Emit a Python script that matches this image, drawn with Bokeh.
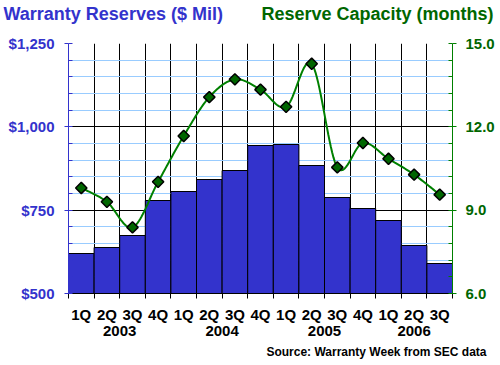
import numpy as np
from bokeh.plotting import figure
from bokeh.layouts import column
from bokeh.models import (Range1d, LinearAxis, FixedTicker, Label, ColumnDataSource, Plot)
from bokeh.embed import file_html
from bokeh.resources import INLINE

# ---- data ----
quarters = ["1Q", "2Q", "3Q", "4Q", "1Q", "2Q", "3Q", "4Q", "1Q", "2Q", "3Q", "4Q", "1Q", "2Q", "3Q"]
years = ["2003", "2004", "2005", "2006"]
year_quarter_counts = [4, 4, 4, 3]
reserves = [620, 638, 674, 779, 806, 842, 869, 944, 947, 884, 788, 755, 719, 644, 590]
capacity = [9.80, 9.30, 8.38, 10.02, 11.67, 13.07, 13.71, 13.34, 12.72, 14.27, 10.54, 11.42, 10.85, 10.28, 9.56]
left_ticks = [500, 750, 1000, 1250]
left_labels = ["$500", "$750", "$1,000", "$1,250"]
right_ticks = [6.0, 9.0, 12.0, 15.0]
title_left = "Warranty Reserves ($ Mil)"
title_right = "Reserve Capacity (months)"
source_note = "Source: Warranty Week from SEC data"

BLUE = "#3333CC"
GREEN_TXT = "#006600"
GREEN_LINE = "#008000"
FONT = "Liberation Sans"

TOTAL_W = 495
HEAD_H, FOOT_H = 30, 26
FW, FH = 384, 250
BL, BT, BR, BB = 68, 13, TOTAL_W - 68 - 384, 46

HAS_FRAME_ALIGN = "frame_align" in Plot.properties()

n = len(reserves)
centers = [i + 0.5 for i in range(n)]
bounds = list(range(n + 1))


def no_align(f):
    if HAS_FRAME_ALIGN:
        f.frame_align = False
    return f


def text_panel(h):
    f = figure(width=TOTAL_W, height=h, output_backend="svg", toolbar_location=None,
               x_range=Range1d(0, TOTAL_W), y_range=Range1d(0, h),
               x_axis_location=None, y_axis_location=None,
               min_border=0, outline_line_color=None,
               background_fill_color="white", border_fill_color="white")
    f.xgrid.visible = False
    f.ygrid.visible = False
    return no_align(f)


# ---- header with the two titles ----
head = text_panel(HEAD_H)
head.add_layout(Label(x=3, y=HEAD_H - 3, text=title_left, text_font=FONT, text_font_style="bold",
                      text_font_size="18px", text_color=BLUE, text_baseline="top", text_align="left"))
head.add_layout(Label(x=493, y=HEAD_H - 3, text=title_right, text_font=FONT, text_font_style="bold",
                      text_font_size="18px", text_color=GREEN_TXT, text_baseline="top", text_align="right"))

# ---- main chart ----
p = figure(frame_width=FW, frame_height=FH, output_backend="svg", toolbar_location=None,
           x_range=Range1d(0, n), y_range=Range1d(500, 1250),
           min_border_left=BL, min_border_right=BR, min_border_top=BT, min_border_bottom=BB,
           background_fill_color="white", border_fill_color="white", outline_line_color=None)
no_align(p)
p.extra_y_ranges = {"m": Range1d(6, 15)}

# grids
p.xgrid.ticker = FixedTicker(ticks=bounds)
p.xgrid.grid_line_color = "black"
p.ygrid.grid_line_color = "black"
p.ygrid.minor_grid_line_color = "#99CCFF"

# left axis
p.yaxis.ticker = FixedTicker(ticks=left_ticks, minor_ticks=list(range(500, 1251, 50)))
p.yaxis.major_label_overrides = {t: l for t, l in zip(left_ticks, left_labels)}
ya = p.yaxis[0]
ya.axis_line_color = BLUE
ya.major_tick_line_color = BLUE
ya.minor_tick_line_color = BLUE
ya.major_tick_out = 4
ya.major_tick_in = 0
ya.minor_tick_in = 4
ya.minor_tick_out = 0
ya.major_label_standoff = 10
ya.major_label_text_color = BLUE
ya.major_label_text_font = FONT
ya.major_label_text_font_style = "bold"
ya.major_label_text_font_size = "15px"

# right axis
ra = LinearAxis(y_range_name="m",
                ticker=FixedTicker(ticks=right_ticks, minor_ticks=[6 + 0.6 * k for k in range(16)]))
ra.major_label_overrides = {t: f"{t:.1f}" for t in right_ticks}
ra.axis_line_color = GREEN_LINE
ra.major_tick_line_color = GREEN_LINE
ra.minor_tick_line_color = GREEN_LINE
ra.major_tick_out = 4
ra.major_tick_in = 0
ra.minor_tick_in = 4
ra.minor_tick_out = 0
ra.major_label_standoff = 9
ra.major_label_text_color = GREEN_TXT
ra.major_label_text_font = FONT
ra.major_label_text_font_style = "bold"
ra.major_label_text_font_size = "15px"
p.add_layout(ra, "right")

# bottom axis (quarters at centers, ticks at boundaries)
xa = p.xaxis[0]
xa.ticker = FixedTicker(ticks=centers, minor_ticks=bounds)
xa.major_label_overrides = {c: q for c, q in zip(centers, quarters)}
xa.axis_line_color = "black"
xa.major_tick_line_color = None
xa.major_tick_out = 5
xa.minor_tick_line_color = "black"
xa.minor_tick_out = 5
xa.minor_tick_in = 0
xa.major_label_standoff = 7
xa.major_label_text_color = "black"
xa.major_label_text_font = FONT
xa.major_label_text_font_style = "bold"
xa.major_label_text_font_size = "15px"

# year axis
ycent = []
s = 0
for c in year_quarter_counts:
    ycent.append(s + c / 2)
    s += c
yax = LinearAxis(ticker=FixedTicker(ticks=ycent, minor_ticks=[]))
yax.major_label_overrides = {c: y for c, y in zip(ycent, years)}
yax.axis_line_color = None
yax.major_tick_line_color = None
yax.minor_tick_line_color = None
yax.major_tick_out = 0
yax.major_label_standoff = 0
yax.major_label_text_color = "black"
yax.major_label_text_font = FONT
yax.major_label_text_font_style = "bold"
yax.major_label_text_font_size = "15px"
p.add_layout(yax, "below")

# bars
src = ColumnDataSource(dict(x=centers, top=reserves))
p.vbar(x="x", top="top", bottom=500, width=1.0, source=src,
       fill_color=BLUE, line_color="black", line_width=1)

# smoothed line (Catmull-Rom through the data points)
pts = list(zip(centers, capacity))
sx, sy = [], []
for i in range(n - 1):
    p0 = np.array(pts[max(i - 1, 0)])
    p1 = np.array(pts[i])
    p2 = np.array(pts[i + 1])
    p3 = np.array(pts[min(i + 2, n - 1)])
    for t in np.linspace(0, 1, 20, endpoint=(i == n - 2)):
        pt = 0.5 * ((2 * p1) + (-p0 + p2) * t + (2 * p0 - 5 * p1 + 4 * p2 - p3) * t * t
                    + (-p0 + 3 * p1 - 3 * p2 + p3) * t ** 3)
        sx.append(pt[0])
        sy.append(pt[1])
p.line(sx, sy, y_range_name="m", line_color=GREEN_LINE, line_width=2)
p.scatter(centers, capacity, y_range_name="m", marker="square", angle=np.pi / 4, size=8,
          fill_color=GREEN_TXT, line_color="black", line_width=1.5)

# ---- footer with the source note ----
foot = text_panel(FOOT_H)
foot.add_layout(Label(x=486, y=7, text=source_note, text_font=FONT, text_font_style="bold",
                      text_font_size="12px", text_color="black", text_baseline="bottom", text_align="right"))

layout = column(head, p, foot, spacing=0)
open("out.html", "w").write(file_html(layout, INLINE))
